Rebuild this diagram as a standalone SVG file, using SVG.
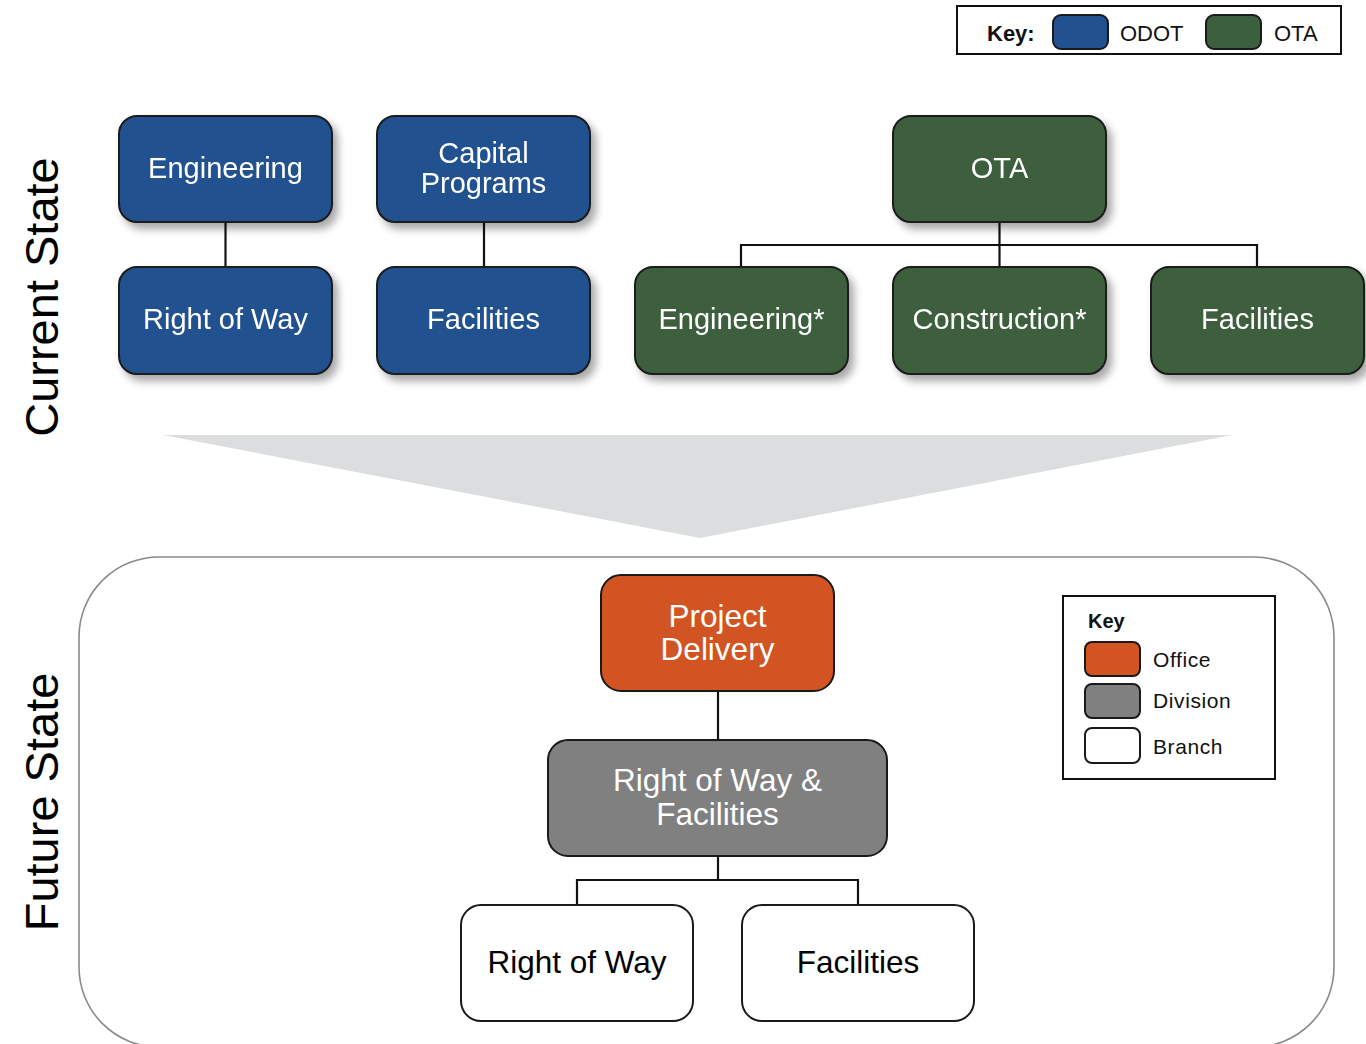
<svg xmlns="http://www.w3.org/2000/svg" width="1366" height="1044" viewBox="0 0 1366 1044">
<defs>
<filter id="sh" x="-20%" y="-20%" width="150%" height="150%">
<feGaussianBlur in="SourceAlpha" stdDeviation="4"/>
<feOffset dx="5" dy="6" result="b"/>
<feComponentTransfer><feFuncA type="linear" slope="0.35"/></feComponentTransfer>
<feMerge><feMergeNode/><feMergeNode in="SourceGraphic"/></feMerge>
</filter>
<style>
text{font-family:"Liberation Sans",Arial,sans-serif}
.n{stroke:#1a1a1a;stroke-width:2}
.odot{fill:#225190}
.ota{fill:#3c5f3e}
.off{fill:#d15422}
.div{fill:#808080}
.br{fill:#ffffff}
.wt{fill:#ffffff;font-size:29px;text-anchor:middle}
.ft{font-size:31.5px;text-anchor:middle}
.c{fill:none;stroke:#111;stroke-width:2.2}
.side{font-size:47px;text-anchor:middle;fill:#000}
.k{font-size:21px;fill:#111}
</style>
</defs>
<rect width="1366" height="1044" fill="#ffffff"/>

<g id="key-top">
<rect x="957" y="6" width="384" height="48" fill="#fff" stroke="#111" stroke-width="2"/>
<text x="987" y="41" font-size="22" font-weight="bold" fill="#111">Key:</text>
<rect x="1053" y="15" width="55" height="34" rx="8" class="n odot"/>
<text x="1120" y="41" font-size="22" fill="#111">ODOT</text>
<rect x="1206" y="15" width="55" height="34" rx="8" class="n ota"/>
<text x="1274" y="41" font-size="22" fill="#111">OTA</text>
</g>

<text class="side" transform="translate(58,297) rotate(-90)">Current State</text>
<text class="side" transform="translate(58,802) rotate(-90)">Future State</text>

<polygon points="163,435 1232,435 700,538" fill="#dcddde"/>

<rect x="79" y="557" width="1255" height="490" rx="80" fill="#fff" stroke="#8a8a8a" stroke-width="1.6"/>

<g id="connectors">
<line class="c" x1="225.5" y1="222" x2="225.5" y2="267"/>
<line class="c" x1="484" y1="222" x2="484" y2="267"/>
<polyline class="c" points="999.5,222 999.5,267"/>
<polyline class="c" points="741,267 741,245 1257,245 1257,267"/>
<line class="c" x1="718" y1="691" x2="718" y2="740"/>
<line class="c" x1="718" y1="856" x2="718" y2="880"/>
<polyline class="c" points="577,905 577,880 858,880 858,905"/>
</g>

<g id="engineering" filter="url(#sh)">
<rect x="119" y="116" width="213" height="106" rx="18" class="n odot"/>
<text class="wt" x="225.5" y="178">Engineering</text>
</g>
<g id="capital-programs" filter="url(#sh)">
<rect x="377" y="116" width="213" height="106" rx="18" class="n odot"/>
<text class="wt" x="483.5" y="163">Capital</text>
<text class="wt" x="483.5" y="193">Programs</text>
</g>
<g id="right-of-way-odot" filter="url(#sh)">
<rect x="119" y="267" width="213" height="107" rx="18" class="n odot"/>
<text class="wt" x="225.5" y="329">Right of Way</text>
</g>
<g id="facilities-odot" filter="url(#sh)">
<rect x="377" y="267" width="213" height="107" rx="18" class="n odot"/>
<text class="wt" x="483.5" y="329">Facilities</text>
</g>
<g id="ota" filter="url(#sh)">
<rect x="893" y="116" width="213" height="106" rx="18" class="n ota"/>
<text class="wt" x="999.5" y="178">OTA</text>
</g>
<g id="engineering-ota" filter="url(#sh)">
<rect x="635" y="267" width="213" height="107" rx="18" class="n ota"/>
<text class="wt" x="741.5" y="329">Engineering*</text>
</g>
<g id="construction-ota" filter="url(#sh)">
<rect x="893" y="267" width="213" height="107" rx="18" class="n ota"/>
<text class="wt" x="999.5" y="329">Construction*</text>
</g>
<g id="facilities-ota" filter="url(#sh)">
<rect x="1151" y="267" width="213" height="107" rx="18" class="n ota"/>
<text class="wt" x="1257.5" y="329">Facilities</text>
</g>

<g id="project-delivery">
<rect x="601" y="575" width="233" height="116" rx="20" class="n off"/>
<text class="ft" x="717.5" y="627" fill="#fff">Project</text>
<text class="ft" x="717.5" y="660" fill="#fff">Delivery</text>
</g>
<g id="row-facilities">
<rect x="548" y="740" width="339" height="116" rx="20" class="n div"/>
<text class="ft" x="717.5" y="791" fill="#fff">Right of Way &amp;</text>
<text class="ft" x="717.5" y="825" fill="#fff">Facilities</text>
</g>
<g id="right-of-way">
<rect x="461" y="905" width="232" height="116" rx="20" class="n br"/>
<text class="ft" x="577" y="973" fill="#000">Right of Way</text>
</g>
<g id="facilities">
<rect x="742" y="905" width="232" height="116" rx="20" class="n br"/>
<text class="ft" x="858" y="973" fill="#000">Facilities</text>
</g>

<g id="key-future">
<rect x="1063" y="596" width="212" height="183" fill="#fff" stroke="#111" stroke-width="2"/>
<text x="1088" y="628" font-size="20" font-weight="bold" fill="#111">Key</text>
<rect x="1085" y="642" width="55" height="34" rx="7" class="n off"/>
<text class="k" x="1153" y="667" letter-spacing="0.6">Office</text>
<rect x="1085" y="684" width="55" height="34" rx="7" class="n div"/>
<text class="k" x="1153" y="708" letter-spacing="0.6">Division</text>
<rect x="1085" y="728" width="55" height="35" rx="7" class="n br"/>
<text class="k" x="1153" y="754" letter-spacing="0.6">Branch</text>
</g>
</svg>
